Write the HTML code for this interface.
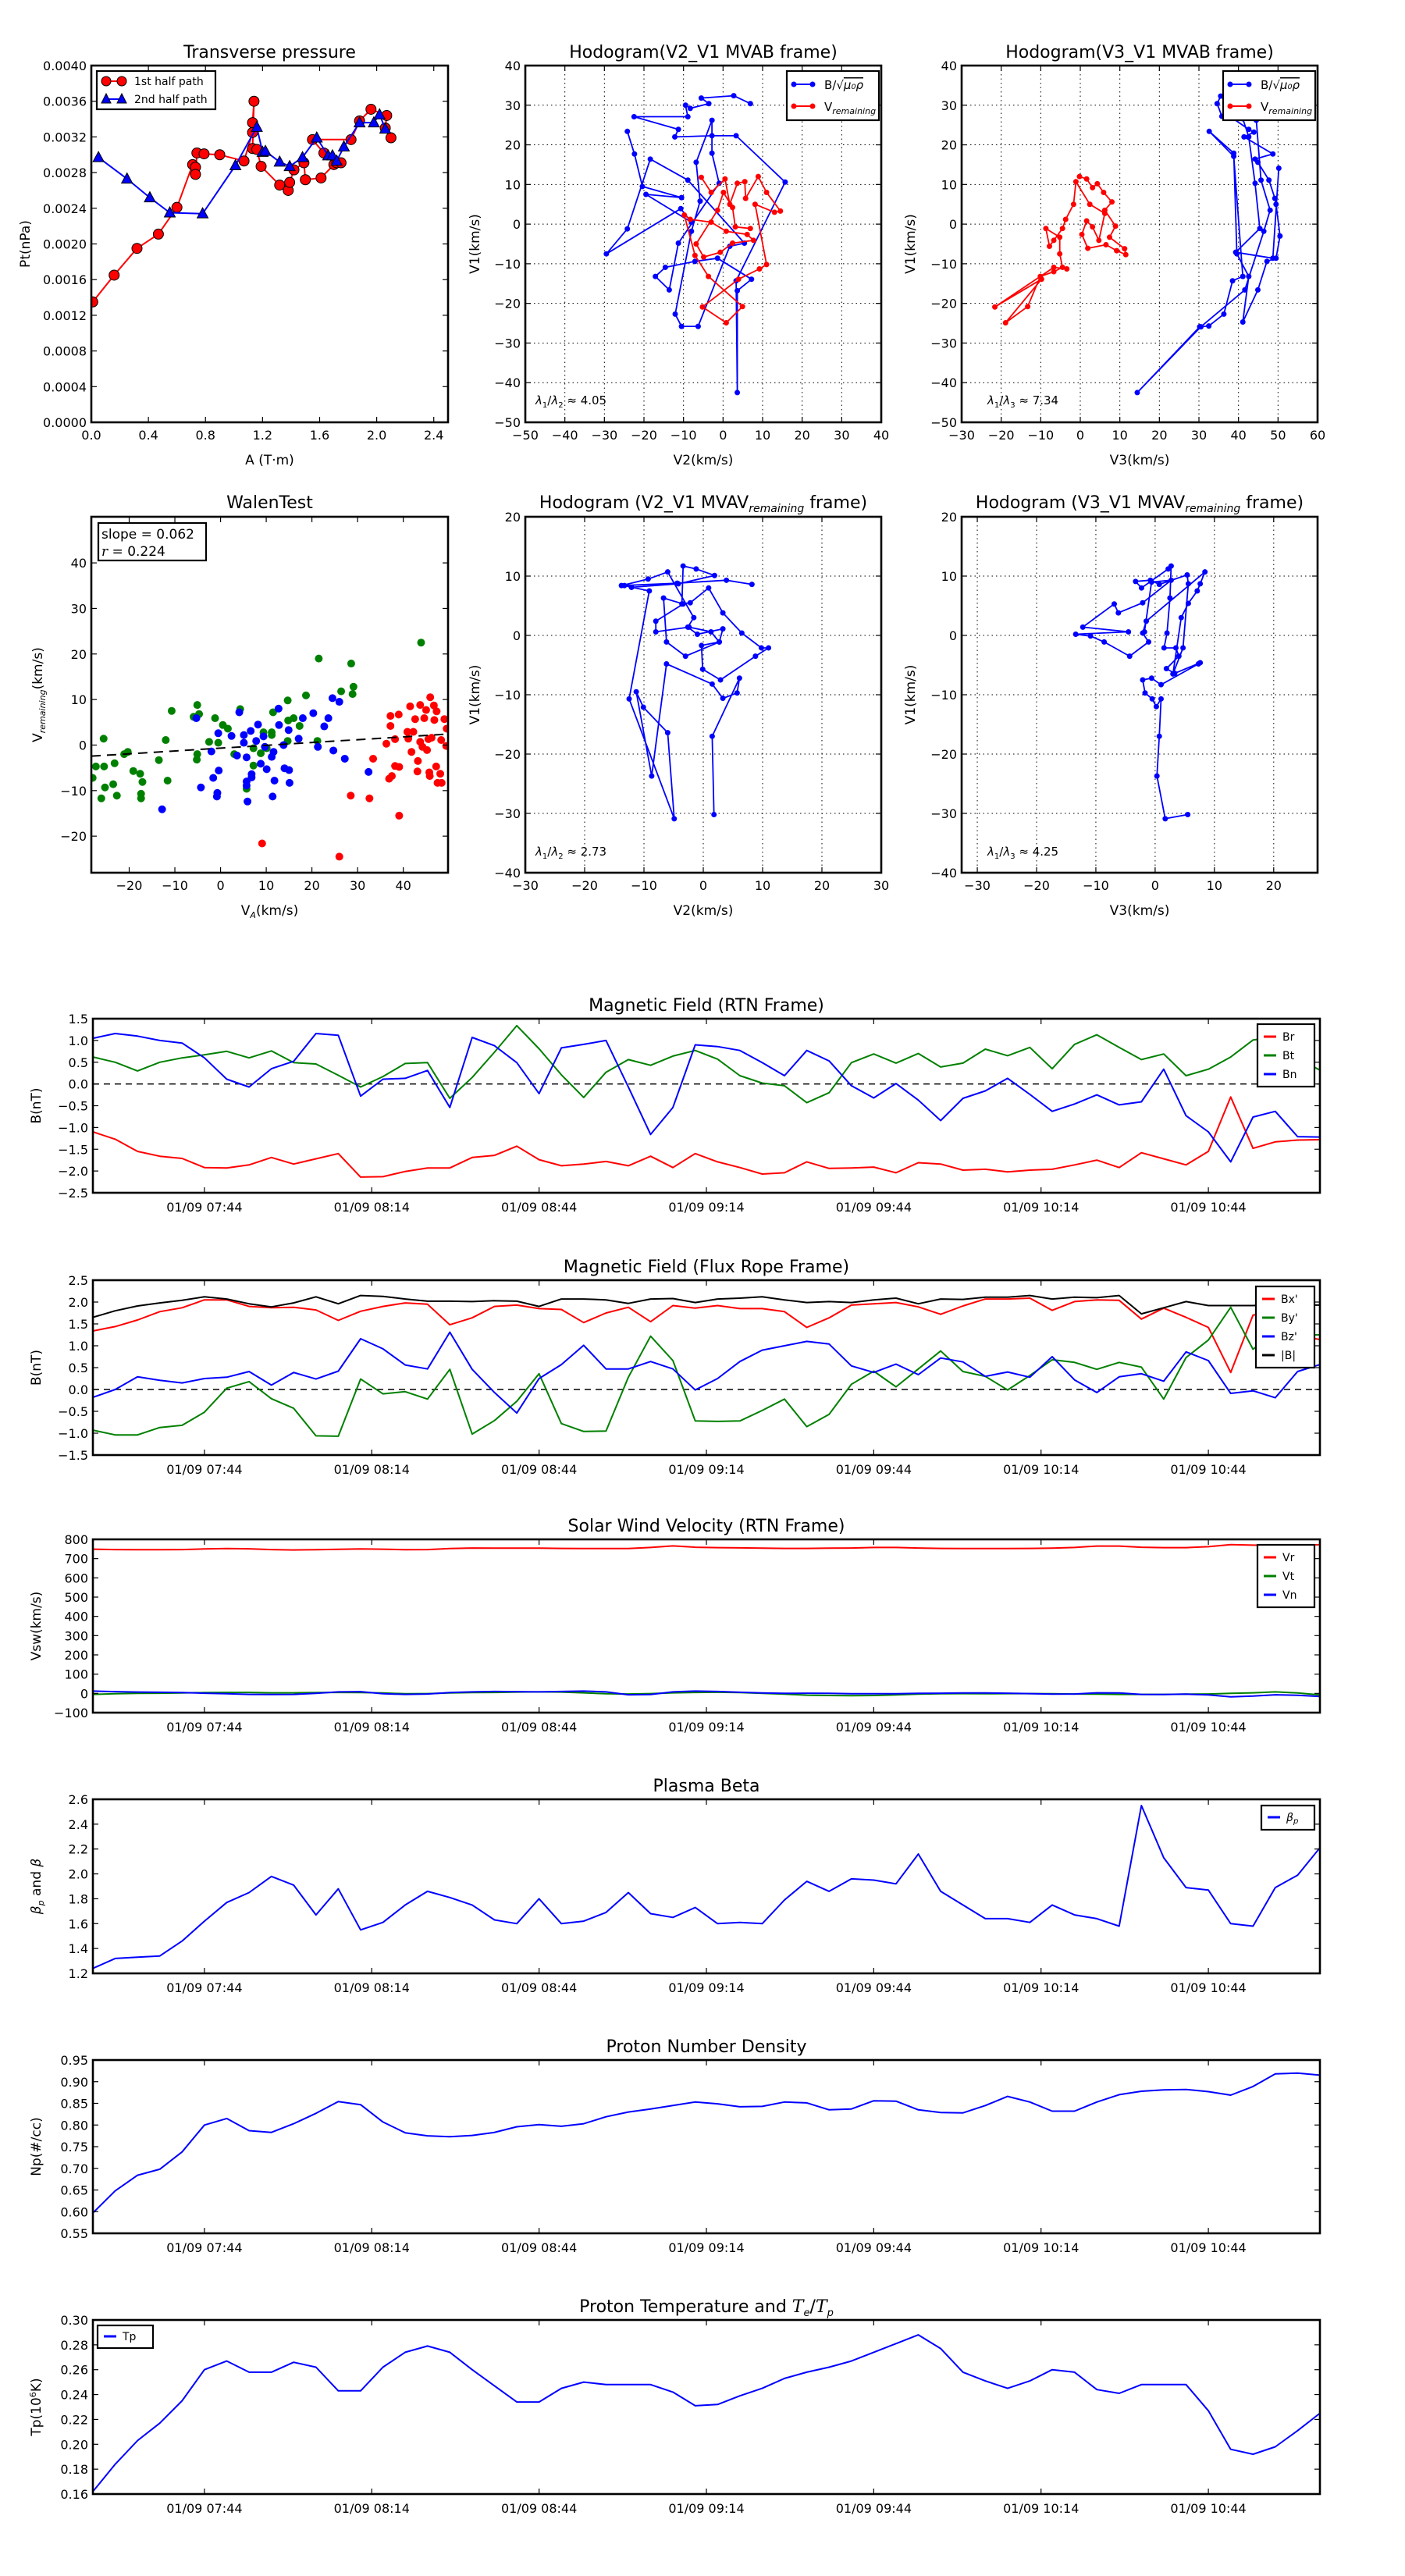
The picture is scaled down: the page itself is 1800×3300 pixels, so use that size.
<!DOCTYPE html>
<html><head><meta charset="utf-8"><title>Flux rope analysis</title>
<style>
html,body{margin:0;padding:0;background:#fff;}
svg{display:block;font-family:"DejaVu Sans","Liberation Sans",sans-serif;}
</style></head>
<body>
<svg id="fig" width="1800" height="3300" viewBox="0 0 1800 3300" xmlns="http://www.w3.org/2000/svg">
<rect x="0" y="0" width="1800" height="3300" fill="#fff"/>
</svg>
<script>
// ---------- Transverse pressure data ----------
const pt1A = [0.01,0.16,0.32,0.47,0.60,0.71,0.73,0.73,0.74,0.79,0.90,1.07,1.13,1.13,1.14,1.13,1.16,1.19,1.32,1.38,1.39,1.42,1.49,1.50,1.61,1.70,1.72,1.75,1.63,1.55,1.82,1.88,1.96,2.07,2.06,2.10];
const pt1P = [0.00135,0.00165,0.00195,0.00211,0.00241,0.00289,0.00286,0.00278,0.00302,0.00301,0.00300,0.00293,0.00325,0.00336,0.00360,0.00307,0.00306,0.00287,0.00266,0.00260,0.00269,0.00283,0.00291,0.00272,0.00274,0.00289,0.00291,0.00291,0.00302,0.00317,0.00317,0.00338,0.00351,0.00344,0.00330,0.00319];
const pt2A = [0.05,0.25,0.41,0.55,0.78,1.01,1.16,1.20,1.22,1.32,1.39,1.48,1.58,1.66,1.69,1.72,1.77,1.88,1.98,2.02,2.06];
const pt2P = [0.00297,0.00273,0.00252,0.00235,0.00234,0.00288,0.00331,0.00303,0.00304,0.00292,0.00287,0.00297,0.00319,0.00299,0.00299,0.00293,0.00309,0.00336,0.00336,0.00345,0.00329];
const ptXTicks = [0,0.4,0.8,1.2,1.6,2.0,2.4];
const ptYTicks = [0,0.0004,0.0008,0.0012,0.0016,0.0020,0.0024,0.0028,0.0032,0.0036,0.0040];

// ---------- Hodogram MVAB V2-V1 ----------
const h1BlueX = [6.9,2.7,-5.5,-3.6,-8.3,-9.5,-8.9,-22.5,-11.3,-12.2,-2.8,3.3,15.7,3.3,3.6,3.6,7.2,-1.4,-7.1,-14.6,-17.1,-13.6,-11.3,-1.0,-2.8,-2.8,-6.8,-5.8,-8.0,-12.1,-10.5,-6.3,1.7,5.4,-8.9,-18.4,-24.2,-29.5,-10.7,-8.0,-19.5,-10.5,-20.4,-22.4,-24.2];
const h1BlueY = [30.4,32.4,31.8,30.4,29.2,30.0,27.1,27.1,23.9,22.0,22.3,22.3,10.6,-14.3,-42.5,-16.8,-13.9,-8.6,-9.4,-10.9,-13.2,-16.6,-4.8,10.3,17.9,26.2,15.6,5.8,-1.8,-22.7,-25.8,-25.8,-5.6,-4.8,11.1,16.4,-1.2,-7.5,3.9,0.5,7.5,6.7,9.5,17.7,23.4];
const h1RedX = [-5.5,-3.0,0.5,1.7,3.6,5.5,5.7,8.9,11.0,14.5,13.0,8.1,11.0,9.2,3.9,-5.2,0.8,4.9,-3.7,-7.1,-9.8,-8.3,-3.0,0.8,6.1,7.7,2.4,-0.7,-4.9,-6.8,-1.4,0.1,2.4,3.1,6.9];
const h1RedY = [11.8,8.0,11.4,5.0,10.3,10.7,6.5,12.0,8.0,3.3,3.0,5.0,-10.2,-11.3,-13.9,-20.9,-24.9,-20.8,-13.2,-7.9,2.3,1.2,0.5,-1.8,-2.6,-4.1,-4.8,-7.1,-8.3,-5.0,3.5,8.0,4.2,-0.7,-1.1];
const h1Ratio = "4.05";

// ---------- Hodogram MVAB V3-V1 ----------
const h2BlueX = [35.5,34.6,35.8,38.1,42.6,43.9,41.4,48.7,44.2,44.9,47.7,49.2,49.5,50.5,49.5,47.2,44.9,41.1,42.6,39.6,38.8,32.6,38.8,41.1,38.5,36.3,32.5,30.2,14.4,30.5,41.6,46.4,48.0,45.7,44.5,41.1,42.6,44.2,45.4,39.3,48.7,50.2];
const h2BlueY = [32.3,30.4,27.2,27.0,23.9,23.2,22.0,17.7,16.4,15.6,11.1,6.5,5.0,-3.0,-8.6,-9.4,-16.6,-24.7,-13.2,-7.5,17.9,23.4,17.1,-13.2,-14.3,-22.7,-25.7,-25.9,-42.5,-25.9,-16.6,-1.8,3.5,11.1,26.2,26.6,22.0,10.3,-1.1,-7.1,-8.6,14.1];
const h2RedX = [-0.2,1.6,3.1,4.3,5.9,8.0,6.2,8.9,7.4,11.2,11.5,9.2,6.5,1.9,0.4,1.6,3.1,4.7,6.2,2.4,-1.1,-1.7,-3.7,-4.5,-6.7,-7.8,-8.7,-5.2,-5.2,-4.5,-6.7,-10.1,-13.3,-18.9,-9.8,-21.6,-6.7,-3.4];
const h2RedY = [12.0,11.4,9.2,10.2,8.0,5.6,3.5,-0.5,-3.3,-6.2,-7.7,-6.7,-5.2,-6.1,-2.6,0.8,-0.7,-4.1,2.7,5.0,10.7,5.0,1.2,-1.1,-4.1,-5.6,-1.1,-3.3,-7.5,-10.9,-12.0,-13.2,-20.8,-24.9,-13.9,-20.9,-10.9,-11.3];
const h2Ratio = "7.34";

// ---------- Hodogram MVAV V2-V1 ----------
const h3X = [1.8,1.5,6.1,5.7,3.3,1.5,-6.2,-8.7,-11.3,-10.1,-6.0,-4.9,-12.5,-9.1,-13.3,-12.1,-4.2,1.9,-1.2,-3.4,-3.6,-2.2,0.9,3.3,6.5,9.8,11.0,8.8,2.9,-0.1,-0.3,2.7,1.3,-2.4,-8.0,-8.0,-3.4,-6.7,-6.2,-3.0,2.7,3.3,-1.0,-2.6,-1.6,-6.0,-9.3,-13.8,-4.4,3.9,8.2];
const h3Y = [-30.2,-17.0,-7.2,-9.7,-10.6,-8.2,-4.8,-23.7,-9.5,-12.1,-16.4,-30.9,-10.7,7.5,8.4,8.1,8.7,10.1,11.2,11.7,5.3,5.5,8.0,3.8,0.4,-2.1,-2.1,-3.5,-7.5,-5.7,-1.7,-1.1,0.6,1.4,0.6,2.4,5.3,6.3,-1.1,-3.5,-1.1,1.1,0.2,1.4,3.0,10.7,9.5,8.4,8.8,9.3,8.6];
const h3Ratio = "2.73";

// ---------- Hodogram MVAV V3-V1 ----------
const h4X = [5.5,1.7,0.3,0.7,1.0,0.2,-0.5,-1.7,-2.1,-0.6,1.0,7.3,7.6,3.3,1.9,4.0,3.5,1.5,2.0,2.5,2.7,2.2,-2.3,-3.3,-0.8,0.7,5.4,5.6,4.7,3.0,4.4,5.6,7.1,7.6,8.4,-1.5,-2.1,-1.1,-4.3,-8.6,-10.9,-13.4,-4.5,-12.2,-6.9,-6.2,-2.1,2.7,-0.6,-1.8];
const h4Y = [-30.2,-30.9,-23.7,-17.0,-10.7,-12.0,-10.7,-9.7,-7.5,-7.2,-8.3,-4.8,-4.6,-6.4,-5.6,-3.5,-2.1,-2.1,0.4,6.3,11.7,11.2,8.0,9.1,9.3,8.6,10.2,8.7,-2.1,-6.5,3.0,5.4,7.5,8.7,10.7,2.4,0.4,-1.1,-3.5,-1.1,-0.1,0.2,0.6,1.4,5.3,3.8,5.5,9.3,9.0,0.6];
const h4Ratio = "4.25";

// ---------- Walen test ----------
const walenGreenX = [-28.0,-27.3,-25.6,-25.5,-25.3,-26.1,-23.5,-23.2,-22.7,-21.1,-20.3,-19.1,-17.6,-17.1,-17.4,-17.4,-13.5,-12.0,-11.6,-10.7,-5.9,-5.1,-4.7,-5.1,-5.2,-2.5,-1.2,-0.5,0.5,1.6,3.0,4.3,5.7,7.2,7.2,8.8,9.4,10.1,11.2,11.2,11.5,14.7,14.8,14.7,16.0,17.3,18.7,21.2,21.5,26.4,28.6,29.1,28.9,43.9];
const walenGreenY = [-7.2,-4.7,1.4,-4.7,-9.3,-11.7,-8.6,-4.0,-11.1,-2.0,-1.5,-5.7,-6.3,-8.1,-10.7,-11.7,-3.3,1.1,-7.8,7.5,6.2,8.8,6.8,-2.0,-3.2,0.7,5.9,0.5,4.4,3.6,-2.0,7.9,-9.6,-0.7,-4.5,-1.8,2.8,-0.7,2.8,2.2,7.2,9.8,5.4,0.9,5.9,4.2,10.9,0.9,19.0,11.8,17.9,12.8,11.2,22.5];
const walenBlueX = [-12.8,-5.3,-4.3,-2.0,-1.6,-0.8,-0.7,-0.5,-0.4,2.4,3.6,4.1,5.1,5.1,5.7,5.7,5.7,5.9,6.6,6.8,6.8,7.8,8.2,8.8,9.4,9.7,10.1,11.2,11.4,11.6,11.8,12.7,12.8,13.8,14.0,15.0,15.1,14.9,17.1,18.0,20.3,21.3,22.7,23.6,24.5,24.7,26.0,27.2,32.4];
const walenBlueY = [-14.1,5.9,-9.3,-1.4,-7.2,-11.3,-10.5,2.6,-5.6,2.0,-2.3,7.2,2.2,0.5,-2.7,-8.0,-8.9,-12.4,3.1,-6.4,-7.1,0.9,4.5,-4.1,1.9,-0.4,-5.3,-2.6,-11.3,-1.5,-7.8,8.0,4.4,0.0,-5.1,-5.5,-8.3,3.3,1.4,5.9,7.0,-0.4,4.1,5.9,10.3,-1.2,9.5,-3.0,-5.9];
const walenRedX = [9.1,26.0,28.5,32.6,33.4,36.3,36.9,37.2,37.2,37.5,38.2,38.2,39.0,39.1,39.1,40.9,41.1,41.5,41.8,42.2,42.6,43.2,43.1,43.7,43.7,44.2,44.6,45.0,45.2,45.5,45.7,45.8,45.9,46.2,46.7,46.8,47.2,47.3,47.5,48.1,48.4,48.3,49.0,49.4,49.5];
const walenRedY = [-21.6,-24.5,-11.1,-11.7,-3.0,0.3,-7.4,6.4,4.2,-6.8,1.3,-4.6,6.7,-4.8,-15.5,2.9,1.4,8.5,-1.5,2.9,5.7,-3.5,-5.8,0.7,8.8,-0.4,5.9,7.7,-1.1,1.3,-6.0,-6.8,10.5,1.6,8.7,5.5,-4.7,7.4,-8.3,-6.3,-8.3,1.1,5.7,-0.2,3.6];
const walenSlope = 0.062;
const walenIntercept = -0.68;
const walenR = "0.224";

// ---------- Time series (minutes after 07:24) ----------
const tMin = [0,4,8,12,16,20,24,28,32,36,40,44,48,52,56,60,64,68,72,76,80,84,88,92,96,100,104,108,112,116,120,124,128,132,136,140,144,148,152,156,160,164,168,172,176,180,184,188,192,196,200,204,208,212,216,220];
const timeTickMin = [20,50,80,110,140,170,200];
const timeTickLabels = ["01/09 07:44","01/09 08:14","01/09 08:44","01/09 09:14","01/09 09:44","01/09 10:14","01/09 10:44"];

const Br = [-1.10,-1.27,-1.55,-1.66,-1.71,-1.92,-1.93,-1.86,-1.69,-1.84,-1.72,-1.60,-2.14,-2.13,-2.01,-1.93,-1.93,-1.69,-1.64,-1.43,-1.74,-1.88,-1.84,-1.78,-1.88,-1.66,-1.92,-1.60,-1.79,-1.92,-2.07,-2.04,-1.79,-1.94,-1.93,-1.91,-2.04,-1.81,-1.84,-1.98,-1.96,-2.02,-1.98,-1.96,-1.86,-1.75,-1.92,-1.58,-1.72,-1.86,-1.55,-0.30,-1.48,-1.33,-1.29,-1.28];
const Bt = [0.62,0.50,0.30,0.50,0.60,0.67,0.75,0.60,0.76,0.49,0.46,0.20,-0.07,0.17,0.47,0.49,-0.33,0.15,0.73,1.34,0.81,0.21,-0.31,0.27,0.56,0.43,0.64,0.77,0.57,0.19,0.02,-0.04,-0.43,-0.20,0.49,0.69,0.48,0.70,0.39,0.48,0.80,0.65,0.84,0.35,0.91,1.13,0.84,0.56,0.69,0.19,0.34,0.62,1.01,1.07,0.58,0.32];
const Bn = [1.05,1.16,1.10,1.00,0.94,0.60,0.11,-0.07,0.35,0.52,1.16,1.12,-0.28,0.11,0.13,0.31,-0.54,1.07,0.88,0.49,-0.22,0.83,0.91,1.00,-0.07,-1.16,-0.54,0.90,0.86,0.77,0.49,0.19,0.77,0.53,-0.04,-0.32,0.01,-0.37,-0.84,-0.33,-0.16,0.13,-0.24,-0.63,-0.46,-0.25,-0.48,-0.41,0.34,-0.73,-1.10,-1.79,-0.76,-0.63,-1.21,-1.22];
const rtnYTicks = [-2.5,-2.0,-1.5,-1.0,-0.5,0.0,0.5,1.0,1.5];

const Bx = [1.34,1.44,1.59,1.78,1.87,2.05,2.05,1.90,1.87,1.88,1.82,1.58,1.79,1.90,1.98,1.95,1.48,1.64,1.90,1.93,1.85,1.83,1.53,1.75,1.88,1.55,1.92,1.86,1.92,1.85,1.85,1.78,1.42,1.64,1.93,1.96,1.99,1.89,1.72,1.91,2.07,2.07,2.09,1.81,2.01,2.05,2.04,1.61,1.86,1.65,1.42,0.39,1.70,1.78,1.25,1.14];
const By = [-0.93,-1.04,-1.04,-0.87,-0.82,-0.52,0.03,0.18,-0.21,-0.43,-1.06,-1.07,0.24,-0.10,-0.05,-0.22,0.46,-1.02,-0.71,-0.27,0.36,-0.78,-0.96,-0.95,0.28,1.22,0.66,-0.72,-0.73,-0.72,-0.48,-0.22,-0.85,-0.57,0.12,0.42,0.06,0.47,0.88,0.41,0.30,-0.01,0.32,0.68,0.62,0.46,0.62,0.51,-0.22,0.73,1.13,1.88,0.92,1.33,1.25,1.25];
const Bz = [-0.18,0.00,0.29,0.21,0.15,0.25,0.28,0.41,0.10,0.39,0.24,0.42,1.16,0.93,0.56,0.47,1.31,0.46,-0.07,-0.54,0.25,0.57,1.01,0.47,0.47,0.64,0.47,-0.01,0.25,0.64,0.90,1.00,1.10,1.04,0.54,0.39,0.58,0.34,0.72,0.63,0.30,0.40,0.28,0.75,0.22,-0.07,0.29,0.36,0.19,0.86,0.66,-0.09,-0.03,-0.19,0.41,0.57];
const Bmag = [1.65,1.80,1.91,1.98,2.04,2.12,2.07,1.96,1.89,1.98,2.12,1.96,2.15,2.13,2.07,2.02,2.02,2.01,2.03,2.02,1.90,2.07,2.07,2.05,1.97,2.07,2.08,1.99,2.07,2.09,2.12,2.05,1.99,2.01,1.99,2.05,2.09,1.96,2.07,2.06,2.11,2.11,2.15,2.07,2.11,2.10,2.15,1.73,1.87,2.01,1.92,1.92,1.92,1.94,1.93,1.93];
const frYTicks = [-1.5,-1.0,-0.5,0.0,0.5,1.0,1.5,2.0,2.5];

const Vr = [749,747,746,746,747,750,752,751,747,745,746,748,750,749,746,747,752,755,754,754,754,753,752,752,752,758,766,759,757,756,754,753,753,754,755,758,758,755,753,752,752,752,753,754,758,765,765,759,757,757,762,773,770,768,770,772];
const Vt = [-5,-2,0,1,2,4,5,5,3,3,4,5,4,2,-2,-1,2,4,5,7,8,7,3,-2,-3,-1,3,5,6,4,0,-4,-9,-11,-12,-11,-8,-4,-2,-1,-2,-1,-1,-2,-3,-4,-5,-5,-5,-4,-3,0,3,8,2,-8];
const Vn = [12,9,7,6,4,1,-2,-5,-6,-5,0,8,9,-2,-5,-3,4,8,10,9,8,10,12,8,-7,-6,8,12,10,6,2,0,1,0,-2,-2,-2,0,1,2,2,1,-1,-4,-3,3,2,-5,-6,-4,-8,-18,-14,-7,-10,-16];
const velYTicks = [-100,0,100,200,300,400,500,600,700,800];

const betaP = [1.24,1.32,1.33,1.34,1.46,1.62,1.77,1.85,1.98,1.91,1.67,1.88,1.55,1.61,1.75,1.86,1.81,1.75,1.63,1.60,1.80,1.60,1.62,1.69,1.85,1.68,1.65,1.73,1.60,1.61,1.60,1.79,1.94,1.86,1.96,1.95,1.92,2.16,1.86,1.75,1.64,1.64,1.61,1.75,1.67,1.64,1.58,2.55,2.13,1.89,1.87,1.60,1.58,1.89,1.99,2.21];
const betaYTicks = [1.2,1.4,1.6,1.8,2.0,2.2,2.4,2.6];

const Np = [0.597,0.648,0.684,0.698,0.738,0.800,0.815,0.787,0.783,0.803,0.827,0.854,0.847,0.807,0.782,0.775,0.773,0.776,0.783,0.796,0.801,0.797,0.803,0.819,0.830,0.837,0.845,0.853,0.849,0.842,0.843,0.853,0.851,0.835,0.837,0.856,0.855,0.835,0.829,0.828,0.845,0.866,0.853,0.832,0.832,0.853,0.870,0.878,0.881,0.882,0.877,0.869,0.889,0.918,0.920,0.915];
const npYTicks = [0.55,0.60,0.65,0.70,0.75,0.80,0.85,0.90,0.95];

const Tp = [0.162,0.184,0.203,0.217,0.235,0.260,0.267,0.258,0.258,0.266,0.262,0.243,0.243,0.262,0.274,0.279,0.274,0.260,0.247,0.234,0.234,0.245,0.250,0.248,0.248,0.248,0.242,0.231,0.232,0.239,0.245,0.253,0.258,0.262,0.267,0.274,0.281,0.288,0.277,0.258,0.251,0.245,0.251,0.260,0.258,0.244,0.241,0.248,0.248,0.248,0.227,0.196,0.192,0.198,0.211,0.225];
const tpYTicks = [0.16,0.18,0.20,0.22,0.24,0.26,0.28,0.30];

// ================= drawing =================
const NS = 'http://www.w3.org/2000/svg';
const svg = document.getElementById('fig');
const RED = '#ff0000', GREEN = '#008000', BLUE = '#0000ff';
let clipId = 0;
function mk(tag, attrs, parent) {
  const e = document.createElementNS(NS, tag);
  for (const k in attrs) e.setAttribute(k, attrs[k]);
  (parent || svg).appendChild(e);
  return e;
}
function fmt(v, d) {
  const s = Math.abs(v).toFixed(d);
  return (v < -1e-12 ? '\u2212' : '') + s;
}
function label(parent, x, y, str, size, anchor, name) {
  const t = mk('text', {x: x, y: y, 'font-size': size, 'text-anchor': anchor || 'middle', fill: '#000'}, parent);
  t.textContent = str;
  
  
  return t;
}

function makeAxes(o) {
  const g = mk('g', {});
  
  
  const sx = v => o.L + (v - o.x0) / (o.x1 - o.x0) * (o.R - o.L);
  const sy = v => o.B - (v - o.y0) / (o.y1 - o.y0) * (o.B - o.T);
  const cid = 'clip' + (clipId++);
  const cp = mk('clipPath', {id: cid}, g);
  
  
  mk('rect', {x: o.L, y: o.T, width: o.R - o.L, height: o.B - o.T}, cp);
  if (o.grid) {
    o.xt.forEach(v => {
      const l = mk('line', {x1: sx(v), x2: sx(v), y1: o.T, y2: o.B, stroke: '#000', 'stroke-width': 1, 'stroke-dasharray': '1.5,4'}, g);
      
      
    });
    o.yt.forEach(v => {
      const l = mk('line', {x1: o.L, x2: o.R, y1: sy(v), y2: sy(v), stroke: '#000', 'stroke-width': 1, 'stroke-dasharray': '1.5,4'}, g);
      
      
    });
  }
  const data = mk('g', {'clip-path': 'url(#' + cid + ')'}, g);
  
  
  // ticks
  o.xt.forEach((v, i) => {
    const x = sx(v);
    const t1 = mk('line', {x1: x, x2: x, y1: o.B, y2: o.B - 7, stroke: '#000', 'stroke-width': 1.2}, g);
    
    
    const t2 = mk('line', {x1: x, x2: x, y1: o.T, y2: o.T + 7, stroke: '#000', 'stroke-width': 1.2}, g);
    
    
    const s = o.xtl ? o.xtl[i] : fmt(v, o.xd);
    label(g, x, o.B + (o.xlOff || 22), s, o.tickSize || 16, 'middle', 'x-tick-label');
  });
  o.yt.forEach(v => {
    const y = sy(v);
    const t1 = mk('line', {x1: o.L, x2: o.L + 7, y1: y, y2: y, stroke: '#000', 'stroke-width': 1.2}, g);
    
    
    const t2 = mk('line', {x1: o.R, x2: o.R - 7, y1: y, y2: y, stroke: '#000', 'stroke-width': 1.2}, g);
    
    
    label(g, o.L - 6, y + 6, fmt(v, o.yd), o.tickSize || 16, 'end', 'y-tick-label');
  });
  if (o.title) {
    const t = label(g, (o.L + o.R) / 2, o.titleY, '', 22, 'middle', 'chart-title');
    if (typeof o.title === 'string') t.textContent = o.title; else o.title(t);
  }
  if (o.xlabel) {
    const t = label(g, (o.L + o.R) / 2, o.xlabelY, '', 17, 'middle', 'x-axis-title');
    if (typeof o.xlabel === 'string') t.textContent = o.xlabel; else o.xlabel(t);
  }
  if (o.ylabel) {
    const cy = (o.T + o.B) / 2;
    const t = mk('text', {x: o.ylabelX, y: cy, 'font-size': 17, 'text-anchor': 'middle', transform: 'rotate(-90 ' + o.ylabelX + ' ' + cy + ')'}, g);
    
    
    if (typeof o.ylabel === 'string') t.textContent = o.ylabel; else o.ylabel(t);
  }
  function frame() {
    const f = mk('rect', {x: o.L, y: o.T, width: o.R - o.L, height: o.B - o.T, fill: 'none', stroke: '#000', 'stroke-width': 2.6}, g);
    
    
  }
  return {g: g, data: data, sx: sx, sy: sy, frame: frame, o: o};
}
function tspan(parent, str, attrs) {
  const s = mk('tspan', attrs || {}, parent);
  s.textContent = str;
  return s;
}
function polyline(ax, xs, ys, color, width, name) {
  const pts = xs.map((x, i) => ax.sx(x).toFixed(1) + ',' + ax.sy(ys[i]).toFixed(1)).join(' ');
  const p = mk('polyline', {points: pts, fill: 'none', stroke: color, 'stroke-width': width, 'stroke-linejoin': 'round'}, ax.data);
  
  
  return p;
}
function dots(ax, xs, ys, color, r, name, stroke) {
  xs.forEach((x, i) => {
    const c = mk('circle', {cx: ax.sx(x), cy: ax.sy(ys[i]), r: r, fill: color, stroke: stroke || 'none', 'stroke-width': 1}, ax.data);
    
    
  });
}
function legendBox(parent, x, y, w, h) {
  const r = mk('rect', {x: x, y: y, width: w, height: h, fill: '#fff', stroke: '#000', 'stroke-width': 2.2}, parent);
  
  
}
function legendLine(parent, x, y, color, str, name) {
  const g = mk('g', {}, parent);
  
  
  mk('line', {x1: x, x2: x + 16, y1: y, y2: y, stroke: color, 'stroke-width': 3}, g);
  const t = mk('text', {x: x + 24, y: y + 5, 'font-size': 14}, g);
  t.textContent = str;
  return t;
}

// ---------- Panel: Transverse pressure ----------
(function () {
  const ax = makeAxes({name: 'transverse-pressure-chart', L: 117, R: 574, T: 84, B: 541, x0: 0, x1: 2.5, y0: 0, y1: 0.004,
    xt: ptXTicks, xd: 1, yt: ptYTicks, yd: 4, title: 'Transverse pressure', titleY: 74, xlabel: 'A (T\u00b7m)', xlabelY: 595,
    ylabel: 'Pt(nPa)', ylabelX: 38});
  polyline(ax, pt1A, pt1P, RED, 2, 'first-half-line');
  dots(ax, pt1A, pt1P, RED, 6.5, 'first-half-point', '#000');
  polyline(ax, pt2A, pt2P, BLUE, 2, 'second-half-line');
  pt2A.forEach((a, i) => {
    const x = ax.sx(a), y = ax.sy(pt2P[i]);
    const tr = mk('polygon', {points: (x) + ',' + (y - 7.5) + ' ' + (x - 7) + ',' + (y + 5.5) + ' ' + (x + 7) + ',' + (y + 5.5), fill: BLUE, stroke: '#000', 'stroke-width': 1}, ax.data);
    
    
  });
  ax.frame();
  const lg = mk('g', {}, ax.g);
  
  
  legendBox(lg, 124, 91, 152, 49);
  mk('line', {x1: 136, x2: 156, y1: 104, y2: 104, stroke: RED, 'stroke-width': 2}, lg);
  mk('circle', {cx: 136, cy: 104, r: 6, fill: RED, stroke: '#000'}, lg);
  mk('circle', {cx: 156, cy: 104, r: 6, fill: RED, stroke: '#000'}, lg);
  const e1 = label(lg, 172, 109, '1st half path', 14, 'start', 'legend-entry-first-half');
  mk('line', {x1: 136, x2: 156, y1: 127, y2: 127, stroke: BLUE, 'stroke-width': 2}, lg);
  mk('polygon', {points: '136,120 130,132 142,132', fill: BLUE, stroke: '#000'}, lg);
  mk('polygon', {points: '156,120 150,132 162,132', fill: BLUE, stroke: '#000'}, lg);
  const e2 = label(lg, 172, 132, '2nd half path', 14, 'start', 'legend-entry-second-half');
})();

// ---------- hodogram helper ----------
function hodoLegend(parent, x) {
  const lg = mk('g', {}, parent);
  
  
  legendBox(lg, x, 91, 118, 63);
  [[108, BLUE], [136, RED]].forEach(([y, c]) => {
    mk('line', {x1: x + 9, x2: x + 33, y1: y, y2: y, stroke: c, 'stroke-width': 2}, lg);
    mk('circle', {cx: x + 9, cy: y, r: 3.5, fill: c}, lg);
    mk('circle', {cx: x + 33, cy: y, r: 3.5, fill: c}, lg);
  });
  const t1 = label(lg, x + 48, 114, 'B/\u221a', 15, 'start', 'legend-entry-b-alfven');
  tspan(t1, 'μ₀ρ', {'font-style': 'italic', 'text-decoration': 'overline'});
  const t2 = label(lg, x + 48, 142, 'V', 15, 'start', 'legend-entry-v-remaining');
  tspan(t2, 'remaining', {'font-style': 'italic', 'font-size': 11, dy: 4});
}
function ratioText(ax, x, y, sub, val) {
  const t = label(ax.g, x, y, '', 15, 'start', 'eigenvalue-ratio');
  tspan(t, 'λ', {'font-style': 'italic'});
  tspan(t, '1', {'font-size': 10, dy: 4});
  tspan(t, '/', {dy: -4});
  tspan(t, 'λ', {'font-style': 'italic'});
  tspan(t, sub, {'font-size': 10, dy: 4});
  tspan(t, ' \u2248 ' + val, {dy: -4});
}
const tens = (a, b) => { const r = []; for (let v = a; v <= b + 1e-9; v += 10) r.push(v); return r; };

// ---------- Hodogram V2_V1 MVAB ----------
(function () {
  const ax = makeAxes({name: 'hodogram-v2-v1-mvab', L: 673, R: 1129, T: 84, B: 541, x0: -50, x1: 40, y0: -50, y1: 40,
    xt: tens(-50, 40), xd: 0, yt: tens(-50, 40), yd: 0, grid: true, title: 'Hodogram(V2_V1 MVAB frame)', titleY: 74,
    xlabel: 'V2(km/s)', xlabelY: 595, ylabel: 'V1(km/s)', ylabelX: 614});
  polyline(ax, h1BlueX, h1BlueY, BLUE, 1.8, 'alfven-velocity-path');
  dots(ax, h1BlueX, h1BlueY, BLUE, 3.5, 'alfven-velocity-point');
  polyline(ax, h1RedX, h1RedY, RED, 1.8, 'remaining-velocity-path');
  dots(ax, h1RedX, h1RedY, RED, 3.5, 'remaining-velocity-point');
  ratioText(ax, 686, 518, '2', h1Ratio);
  ax.frame();
  hodoLegend(ax.g, 1008);
})();
// ---------- Hodogram V3_V1 MVAB ----------
(function () {
  const ax = makeAxes({name: 'hodogram-v3-v1-mvab', L: 1232, R: 1688, T: 84, B: 541, x0: -30, x1: 60, y0: -50, y1: 40,
    xt: tens(-30, 60), xd: 0, yt: tens(-50, 40), yd: 0, grid: true, title: 'Hodogram(V3_V1 MVAB frame)', titleY: 74,
    xlabel: 'V3(km/s)', xlabelY: 595, ylabel: 'V1(km/s)', ylabelX: 1172});
  polyline(ax, h2BlueX, h2BlueY, BLUE, 1.8, 'alfven-velocity-path');
  dots(ax, h2BlueX, h2BlueY, BLUE, 3.5, 'alfven-velocity-point');
  polyline(ax, h2RedX, h2RedY, RED, 1.8, 'remaining-velocity-path');
  dots(ax, h2RedX, h2RedY, RED, 3.5, 'remaining-velocity-point');
  ratioText(ax, 1265, 518, '3', h2Ratio);
  ax.frame();
  hodoLegend(ax.g, 1567);
})();

// ---------- Walen test ----------
(function () {
  const ax = makeAxes({name: 'walen-test-chart', L: 117, R: 574, T: 662, B: 1118, x0: -28.29, x1: 49.8, y0: -28.03, y1: 50.13,
    xt: [-20, -10, 0, 10, 20, 30, 40], xd: 0, yt: [-20, -10, 0, 10, 20, 30, 40], yd: 0, title: 'WalenTest', titleY: 651,
    xlabel: function (t) { t.textContent = 'V'; tspan(t, 'A', {'font-size': 11, 'font-style': 'italic', dy: 4}); tspan(t, '(km/s)', {dy: -4}); },
    xlabelY: 1172, ylabelX: 54,
    ylabel: function (t) { t.textContent = 'V'; tspan(t, 'remaining', {'font-size': 11, 'font-style': 'italic', dy: 4}); tspan(t, '(km/s)', {dy: -4}); }});
  dots(ax, walenGreenX, walenGreenY, GREEN, 5, 'walen-point-green');
  dots(ax, walenBlueX, walenBlueY, BLUE, 5, 'walen-point-blue');
  dots(ax, walenRedX, walenRedY, RED, 5, 'walen-point-red');
  const xa = ax.o.x0, xb = ax.o.x1;
  const fit = mk('line', {x1: ax.sx(xa), y1: ax.sy(walenSlope * xa + walenIntercept), x2: ax.sx(xb), y2: ax.sy(walenSlope * xb + walenIntercept), stroke: '#000', 'stroke-width': 2, 'stroke-dasharray': '12,8'}, ax.data);
  
  
  ax.frame();
  const bx = mk('g', {}, ax.g);
  
  
  legendBox(bx, 126, 670, 138, 48);
  label(bx, 130, 690, 'slope = ' + walenSlope.toFixed(3), 17, 'start', 'slope-text');
  const rt = label(bx, 130, 712, '', 17, 'start', 'correlation-text');
  tspan(rt, 'r', {'font-style': 'italic', 'font-family': 'DejaVu Serif, serif'});
  tspan(rt, ' = ' + walenR);
})();

// ---------- Hodogram MVAV V2 ----------
function mvavTitle(comp) {
  return function (t) {
    t.textContent = 'Hodogram (' + comp + '_V1 MVAV';
    tspan(t, 'remaining', {'font-size': 14, 'font-style': 'italic', dy: 5});
    tspan(t, ' frame)', {dy: -5});
  };
}
(function () {
  const ax = makeAxes({name: 'hodogram-v2-v1-mvav', L: 673, R: 1129, T: 662, B: 1118, x0: -30, x1: 30, y0: -40, y1: 20,
    xt: tens(-30, 30), xd: 0, yt: tens(-40, 20), yd: 0, grid: true, title: mvavTitle('V2'), titleY: 651,
    xlabel: 'V2(km/s)', xlabelY: 1172, ylabel: 'V1(km/s)', ylabelX: 614});
  polyline(ax, h3X, h3Y, BLUE, 1.8, 'mvav-path');
  dots(ax, h3X, h3Y, BLUE, 3.5, 'mvav-point');
  ratioText(ax, 686, 1096, '2', h3Ratio);
  ax.frame();
})();
(function () {
  const ax = makeAxes({name: 'hodogram-v3-v1-mvav', L: 1232, R: 1688, T: 662, B: 1118, x0: -32.64, x1: 27.4, y0: -40, y1: 20,
    xt: tens(-30, 20), xd: 0, yt: tens(-40, 20), yd: 0, grid: true, title: mvavTitle('V3'), titleY: 651,
    xlabel: 'V3(km/s)', xlabelY: 1172, ylabel: 'V1(km/s)', ylabelX: 1172});
  polyline(ax, h4X, h4Y, BLUE, 1.8, 'mvav-path');
  dots(ax, h4X, h4Y, BLUE, 3.5, 'mvav-point');
  ratioText(ax, 1265, 1096, '3', h4Ratio);
  ax.frame();
})();

// ---------- time series ----------
function tsAxes(name, T, B, y0, y1, yt, yd, title, ylabel) {
  return makeAxes({name: name, L: 119, R: 1691, T: T, B: B, x0: 0, x1: 220, y0: y0, y1: y1,
    xt: timeTickMin, xtl: timeTickLabels, yt: yt, yd: yd, title: title, titleY: T - 10, ylabel: ylabel, ylabelX: 52, xlOff: 24});
}
function zeroLine(ax) {
  const z = mk('line', {x1: ax.o.L, x2: ax.o.R, y1: ax.sy(0), y2: ax.sy(0), stroke: '#000', 'stroke-width': 1.5, 'stroke-dasharray': '8,6'}, ax.data);
  
  
}
function tsLegend(ax, x, y, entries) {
  const lg = mk('g', {}, ax.g);
  
  
  legendBox(lg, x, y, 1684 - x, entries.length * 24 + 8);
  entries.forEach(([c, s], i) => legendLine(lg, x + 8, y + 16 + i * 24, c, s, 'legend-entry-' + s.replace(/[^A-Za-z]/g, '').toLowerCase()));
}
(function () {
  const ax = tsAxes('magnetic-field-rtn-chart', 1305, 1528, -2.5, 1.5, rtnYTicks, 1, 'Magnetic Field (RTN Frame)', 'B(nT)');
  zeroLine(ax);
  polyline(ax, tMin, Br, RED, 2, 'br-line');
  polyline(ax, tMin, Bt, GREEN, 2, 'bt-line');
  polyline(ax, tMin, Bn, BLUE, 2, 'bn-line');
  ax.frame();
  tsLegend(ax, 1611, 1312, [[RED, 'Br'], [GREEN, 'Bt'], [BLUE, 'Bn']]);
})();
(function () {
  const ax = tsAxes('magnetic-field-flux-rope-chart', 1640, 1864, -1.5, 2.5, frYTicks, 1, 'Magnetic Field (Flux Rope Frame)', 'B(nT)');
  zeroLine(ax);
  polyline(ax, tMin, Bx, RED, 2, 'bx-line');
  polyline(ax, tMin, By, GREEN, 2, 'by-line');
  polyline(ax, tMin, Bz, BLUE, 2, 'bz-line');
  polyline(ax, tMin, Bmag, '#000', 2, 'bmag-line');
  ax.frame();
  tsLegend(ax, 1609, 1648, [[RED, "Bx'"], [GREEN, "By'"], [BLUE, "Bz'"], ['#000', '|B|']]);
})();
(function () {
  const ax = tsAxes('solar-wind-velocity-chart', 1972, 2194, -100, 800, velYTicks, 0, 'Solar Wind Velocity (RTN Frame)', 'Vsw(km/s)');
  polyline(ax, tMin, Vr, RED, 2, 'vr-line');
  polyline(ax, tMin, Vt, GREEN, 2, 'vt-line');
  polyline(ax, tMin, Vn, BLUE, 2, 'vn-line');
  ax.frame();
  tsLegend(ax, 1611, 1979, [[RED, 'Vr'], [GREEN, 'Vt'], [BLUE, 'Vn']]);
})();
(function () {
  const ax = tsAxes('plasma-beta-chart', 2305, 2528, 1.2, 2.6, betaYTicks, 1, 'Plasma Beta', function (t) {
    tspan(t, 'β', {'font-style': 'italic'}); tspan(t, 'p', {'font-size': 11, 'font-style': 'italic', dy: 4}); tspan(t, ' and ', {dy: -4}); tspan(t, 'β', {'font-style': 'italic'});
  });
  polyline(ax, tMin, betaP, BLUE, 2, 'beta-p-line');
  ax.frame();
  const lg = mk('g', {}, ax.g);
  
  
  legendBox(lg, 1616, 2313, 68, 31);
  const t = legendLine(lg, 1624, 2328, BLUE, '', 'legend-entry-beta-p');
  tspan(t, 'β', {'font-style': 'italic'});
  tspan(t, 'p', {'font-size': 10, 'font-style': 'italic', dy: 3});
})();
(function () {
  const ax = tsAxes('proton-density-chart', 2639, 2861, 0.55, 0.95, npYTicks, 2, 'Proton Number Density', 'Np(#/cc)');
  polyline(ax, tMin, Np, BLUE, 2, 'np-line');
  ax.frame();
})();
(function () {
  const ax = tsAxes('proton-temperature-chart', 2972, 3195, 0.16, 0.30, tpYTicks, 2, function (t) {
    t.textContent = 'Proton Temperature and ';
    tspan(t, 'T', {'font-style': 'italic', 'font-family': 'DejaVu Serif, serif'});
    tspan(t, 'e', {'font-size': 13, 'font-style': 'italic', dy: 5});
    tspan(t, '/', {dy: -5});
    tspan(t, 'T', {'font-style': 'italic', 'font-family': 'DejaVu Serif, serif'});
    tspan(t, 'p', {'font-size': 13, 'font-style': 'italic', dy: 5});
  }, function (t) { t.textContent = 'Tp(10'; tspan(t, '6', {'font-size': 11, dy: -6}); tspan(t, 'K)', {dy: 6}); });
  polyline(ax, tMin, Tp, BLUE, 2, 'tp-line');
  ax.frame();
  const lg = mk('g', {}, ax.g);
  
  
  legendBox(lg, 125, 2979, 71, 29);
  legendLine(lg, 133, 2993, BLUE, 'Tp', 'legend-entry-tp');
})();
</script>
</body></html>
